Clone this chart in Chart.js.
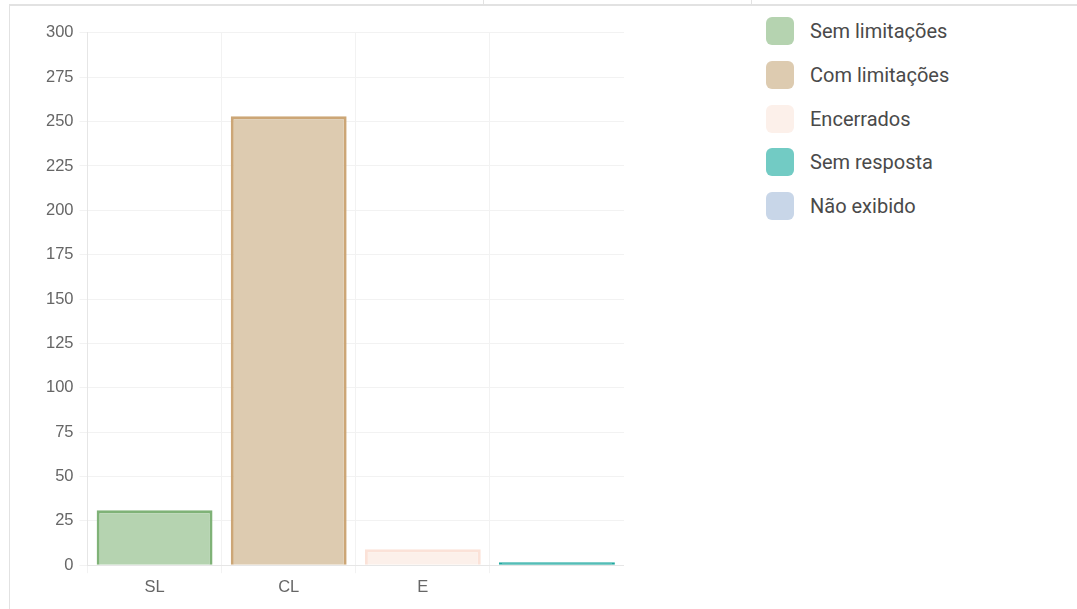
<!DOCTYPE html>
<html lang="pt">
<head>
<meta charset="UTF-8">
<script src="https://cdn.jsdelivr.net/npm/chart.js"></script>
<title>Situação</title>
<style>
    body { margin: 0; background: #fff; width: 1077px; height: 609px; overflow: hidden; position: relative; }
    .frame { position: absolute; left: 9px; top: 4px; right: -2px; bottom: -2px;
             border-left: 1px solid #e2e2e2; border-top: 2px solid #e2e2e2; }
    .sep { position: absolute; top: 0; width: 1px; height: 5px; background: #e2e2e2; }
    .chart-box { position: absolute; left: 40px; top: 17px; width: 584px; height: 584px; }
    .legend { position: absolute; left: 766px; top: 17px; font-family: Roboto, sans-serif; }
    .legend-item { display: flex; align-items: center; height: 28px; margin-bottom: 15.75px; }
    .legend-box { width: 28px; height: 28px; border-radius: 6px; margin-right: 16px; }
    .legend-text { font-size: 20px; color: #4a4a4a; }
</style>
</head>
<body>
<div class="frame"></div>
<div class="sep" style="left:483px"></div>
<div class="sep" style="left:751px"></div>

<div class="chart-box">
    <canvas id="myChart"></canvas>
</div>
<div class="legend" id="legend"></div>

<script>
    // bar data
    const categories = ['SL', 'CL', 'E', ''];
    const counts = [31, 253, 9, 0];
    const barFill = ['#b5d3b0', '#ddcbb0', '#fcf0ea', '#1fa89f'];
    const barBorder = ['#7fb277', '#cca676', '#fbe2d8', '#1fa89f'];

    // legend entries
    const legendLabels = ['Sem limitações', 'Com limitações', 'Encerrados', 'Sem resposta', 'Não exibido'];
    const legendColors = ['#b5d3b0', '#ddcbb0', '#fcf0ea', '#72cbc4', '#c8d6e8'];

    // y axis ticks
    const yMax = 300;
    const yStep = 25;

    const legend = document.getElementById('legend');
    legendLabels.forEach((label, i) => {
        const item = document.createElement('div');
        item.className = 'legend-item';
        const box = document.createElement('div');
        box.className = 'legend-box';
        box.style.background = legendColors[i];
        const text = document.createElement('span');
        text.className = 'legend-text';
        text.textContent = label;
        item.appendChild(box);
        item.appendChild(text);
        legend.appendChild(item);
    });

    const tickFont = { family: 'Liberation Sans', size: 16.5 };

    const ctx = document.getElementById('myChart').getContext('2d');
    const chart = new Chart(ctx, {
        type: 'bar',
        data: {
            labels: categories,
            datasets: [{
                data: counts,
                backgroundColor: barFill,
                borderColor: barBorder,
                borderWidth: 3,
                minBarLength: 3,
                barPercentage: 0.96,
                categoryPercentage: 0.9
            }]
        },
        options: {
            responsive: true,
            maintainAspectRatio: false,
            animation: false,
            plugins: {
                legend: { display: false },
                tooltip: { enabled: false }
            },
            scales: {
                x: {
                    grid: { color: '#f2f2f2' },
                    border: { color: '#e6e6e6' },
                    ticks: { color: '#666', font: tickFont, padding: 4 }
                },
                y: {
                    min: 0,
                    max: yMax,
                    grid: { color: '#f2f2f2' },
                    border: { color: '#e6e6e6' },
                    ticks: { stepSize: yStep, color: '#666', font: tickFont, padding: 6 }
                }
            }
        }
    });
</script>
</body>
</html>
